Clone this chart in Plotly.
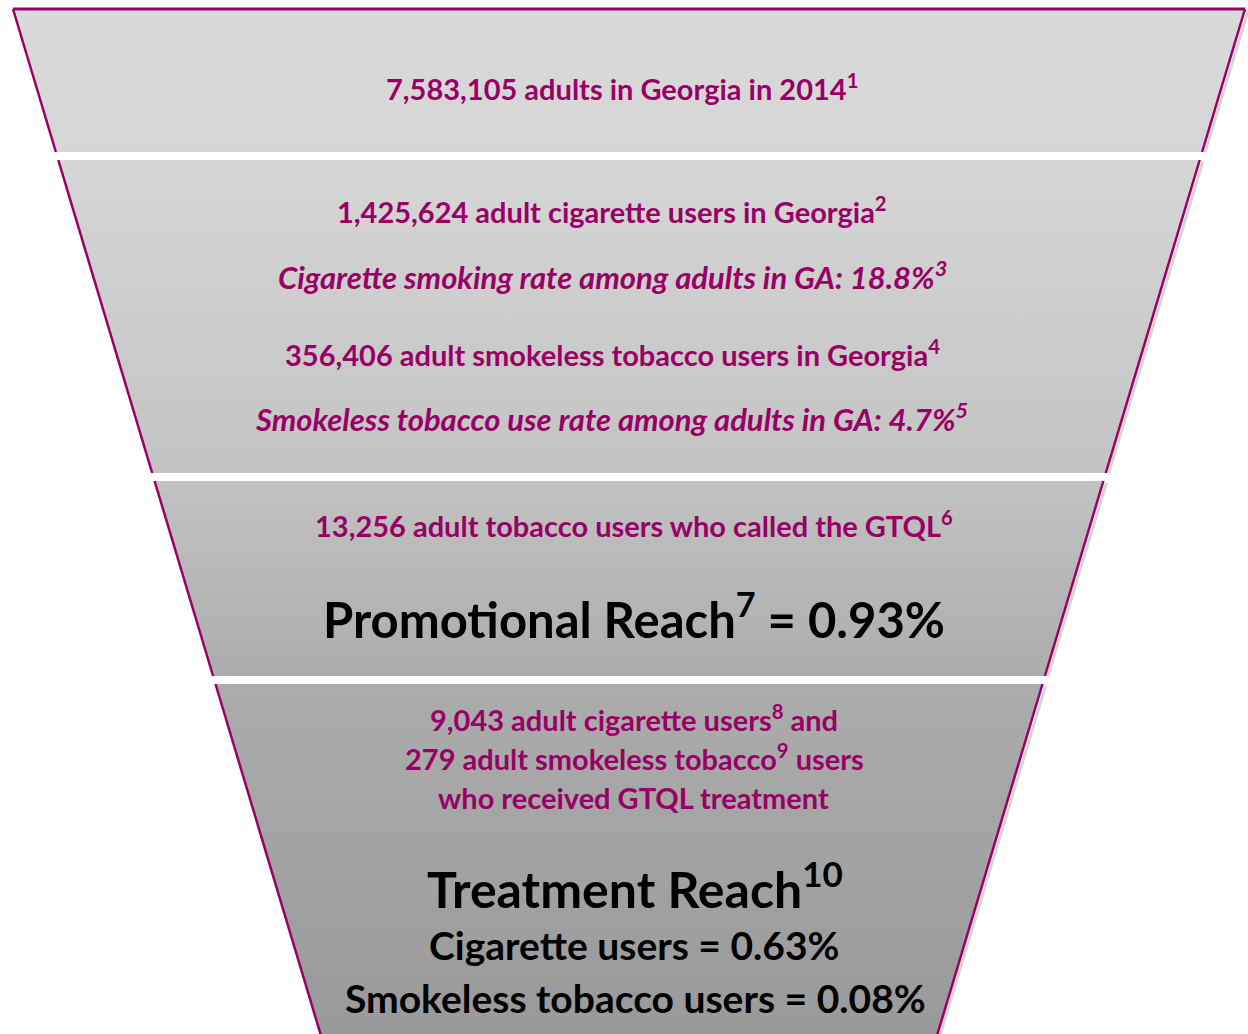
import plotly.graph_objects as go

# Funnel levels: text shown in each band
level_lines = [
    ["7,583,105 adults in Georgia in 2014<sup>1</sup>"],
    ["1,425,624 adult cigarette users in Georgia<sup>2</sup>",
     "<i>Cigarette smoking rate among adults in GA: 18.8%<sup>3</sup></i>",
     "356,406 adult smokeless tobacco users in Georgia<sup>4</sup>",
     "<i>Smokeless tobacco use rate among adults in GA: 4.7%<sup>5</sup></i>"],
    ["13,256 adult tobacco users who called the GTQL<sup>6</sup>",
     "Promotional Reach<sup>7</sup> = 0.93%"],
    ["9,043 adult cigarette users<sup>8</sup> and",
     "279 adult smokeless tobacco<sup>9</sup> users",
     "who received GTQL treatment",
     "Treatment Reach<sup>10</sup>",
     "Cigarette users = 0.63%",
     "Smokeless tobacco users = 0.08%"],
]

# Layout of the funnel (pixel-like coordinates, y grows downward)
W, H = 1248, 1034
band_top = [9, 160, 481, 684]
band_bot = [152, 473, 676, 1045]
band_colors = [("#d9d9d9", "#d6d6d6"), ("#d6d6d6", "#c3c3c3"),
               ("#c2c2c2", "#adadad"), ("#acacac", "#999999")]
X_LEFT0, X_RIGHT0, Y0, SLOPE = 13, 1245, 9, 0.30
MAGENTA = "#990066"


def left_x(y):
    return X_LEFT0 + SLOPE * (y - Y0)


def right_x(y):
    return X_RIGHT0 - SLOPE * (y - Y0)


# Text placement and styling per line: (x, y), (colour, size)
line_pos = [
    [(622, 87)],
    [(612, 210), (612, 275), (612, 353), (611, 417)],
    [(634, 524), (634, 615)],
    [(634, 718), (634, 757), (633, 797), (635, 885), (634, 945), (635, 998)],
]
line_style = [
    [("m", 29)],
    [("m", 29), ("m", 31), ("m", 29), ("m", 31)],
    [("m", 29), ("k", 49)],
    [("m", 29), ("m", 29), ("m", 29), ("k", 50), ("k", 39), ("k", 39)],
]

fig = go.Figure()

for i in range(4):
    yt, yb = band_top[i], band_bot[i]
    xs = [left_x(yt), right_x(yt), right_x(yb), left_x(yb), left_x(yt)]
    ys = [yt, yt, yb, yb, yt]
    # soft shadow along the right edge
    fig.add_trace(go.Scatter(
        x=[right_x(yt) + 3, right_x(yb) + 3], y=[yt + 2, yb], mode="lines",
        line=dict(color="rgba(160,160,160,0.45)", width=3),
        hoverinfo="skip", showlegend=False))
    fig.add_trace(go.Scatter(
        x=xs, y=ys, mode="lines", fill="toself",
        line=dict(width=0, color="rgba(0,0,0,0)"),
        fillgradient=dict(type="vertical", start=yt, stop=yb,
                          colorscale=[[0, band_colors[i][0]],
                                      [1, band_colors[i][1]]]),
        hoverinfo="skip", showlegend=False))
    # magenta side edges
    for xa, xb in [(left_x(yt), left_x(yb)), (right_x(yt), right_x(yb))]:
        fig.add_trace(go.Scatter(
            x=[xa, xb], y=[yt, yb], mode="lines",
            line=dict(color=MAGENTA, width=2.5),
            hoverinfo="skip", showlegend=False))

# top rim
fig.add_trace(go.Scatter(
    x=[left_x(Y0), right_x(Y0)], y=[Y0, Y0], mode="lines",
    line=dict(color=MAGENTA, width=3), hoverinfo="skip", showlegend=False))

for texts, poss, styles in zip(level_lines, line_pos, line_style):
    for t, (x, y), (c, s) in zip(texts, poss, styles):
        fig.add_annotation(
            x=x, y=y, text=t, showarrow=False, xanchor="center", yanchor="middle",
            font=dict(family="Lato", size=s, weight=700,
                      color=MAGENTA if c == "m" else "#000000"))

fig.update_xaxes(range=[0, W], visible=False, fixedrange=True)
fig.update_yaxes(range=[H, 0], visible=False, fixedrange=True)
fig.update_layout(
    width=W, height=H, margin=dict(l=0, r=0, t=0, b=0),
    paper_bgcolor="white", plot_bgcolor="white", showlegend=False)

fig.write_html("out.html")
